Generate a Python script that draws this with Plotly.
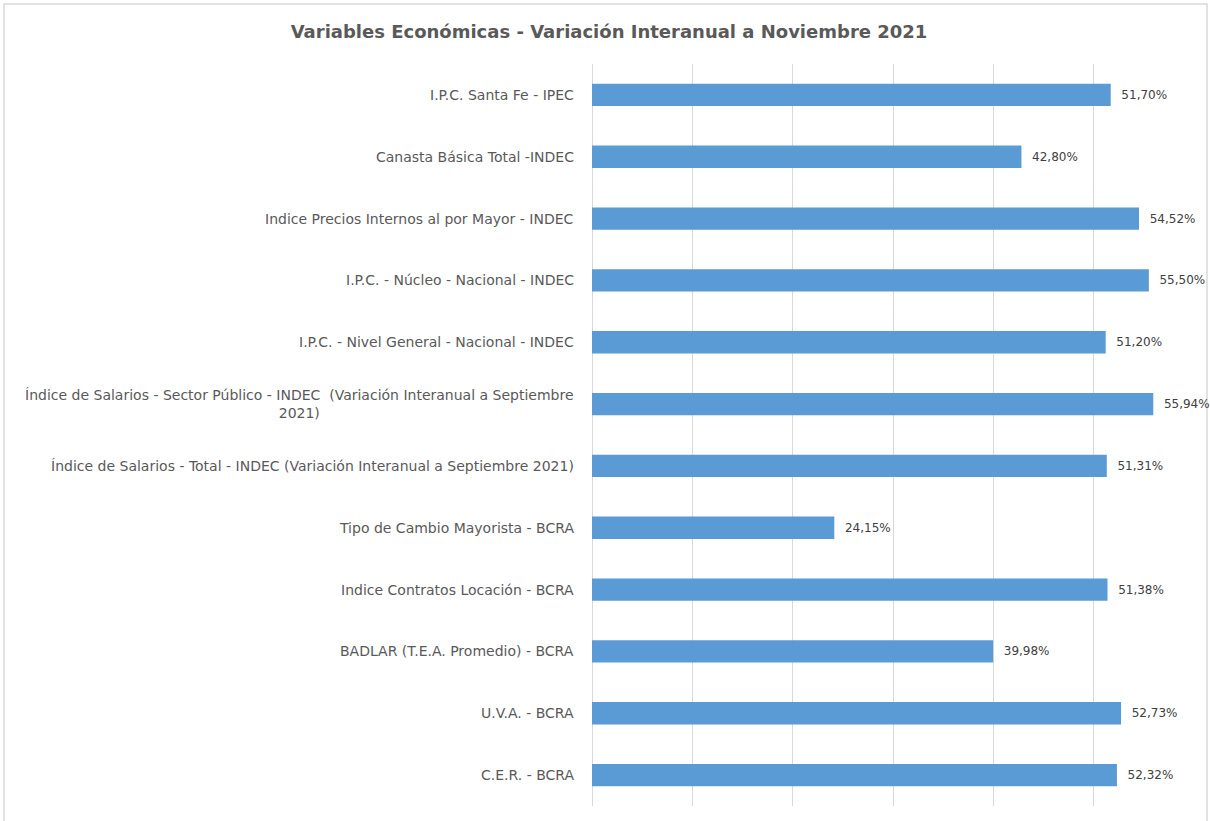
import plotly.graph_objects as go

categories = [
    "I.P.C. Santa Fe - IPEC",
    "Canasta Básica Total -INDEC",
    "Indice Precios Internos al por Mayor - INDEC",
    "I.P.C. - Núcleo - Nacional - INDEC",
    "I.P.C. - Nivel General - Nacional - INDEC",
    "Índice de Salarios - Sector Público - INDEC  (Variación Interanual a Septiembre<br>2021)",
    "Índice de Salarios - Total - INDEC (Variación Interanual a Septiembre 2021)",
    "Tipo de Cambio Mayorista - BCRA",
    "Indice Contratos Locación - BCRA",
    "BADLAR (T.E.A. Promedio) - BCRA",
    "U.V.A. - BCRA",
    "C.E.R. - BCRA",
]
values = [51.70, 42.80, 54.52, 55.50, 51.20, 55.94, 51.31, 24.15, 51.38, 39.98, 52.73, 52.32]
x_ticks = [0, 10, 20, 30, 40, 50, 60]

TEXT = "#595959"
FONT = "DejaVu Sans"

fig = go.Figure()
fig.add_trace(go.Bar(
    y=categories,
    x=values,
    orientation="h",
    marker=dict(color="#5B9BD5", line=dict(width=0)),
    texttemplate="\u00a0\u00a0%{x:.2f}%",
    textposition="outside",
    textfont=dict(family=FONT, size=12, color="#404040"),
    cliponaxis=False,
    hoverinfo="skip",
))

for c in categories:
    fig.add_annotation(
        x=0, xref="paper", xshift=-16, xanchor="right",
        y=c, yref="y", yanchor="middle",
        text=c, showarrow=False, align="center",
        font=dict(family=FONT, size=14, color=TEXT),
    )

W, H = 1210, 821
L, R, T, B = 592, 16, 64, 15
pw, ph = W - L - R, H - T - B
fig.add_shape(
    type="rect", xref="paper", yref="paper",
    x0=(4 - L) / pw, x1=(1207 - L) / pw,
    y0=-(B + 10) / ph, y1=1 + (T - 4) / ph,
    line=dict(color="#D9D9D9", width=1.5), fillcolor="rgba(0,0,0,0)", layer="below",
)

fig.update_layout(
    width=W, height=H,
    margin=dict(l=L, r=R, t=T, b=B),
    paper_bgcolor="white", plot_bgcolor="white",
    separators=",.",
    bargap=0.64,
    showlegend=False,
    title=dict(
        text="<b>Variables Económicas - Variación Interanual a Noviembre 2021</b>",
        x=609 / W, xanchor="center", xref="container",
        y=1 - 32 / H, yanchor="middle", yref="container",
        font=dict(family=FONT, size=18, color=TEXT),
    ),
    xaxis=dict(
        range=[0, 60], tickvals=x_ticks, showticklabels=False,
        showgrid=True, gridcolor="#D9D9D9", gridwidth=1,
        zeroline=True, zerolinecolor="#D9D9D9", zerolinewidth=1,
        showline=False, fixedrange=True,
    ),
    yaxis=dict(
        autorange="reversed", showticklabels=False, showgrid=False,
        zeroline=False, showline=False, fixedrange=True,
    ),
)

fig.write_html(
    "out.html",
    config={"displayModeBar": False},
    post_script="document.body.style.margin='0px';document.body.style.overflow='hidden';",
)
